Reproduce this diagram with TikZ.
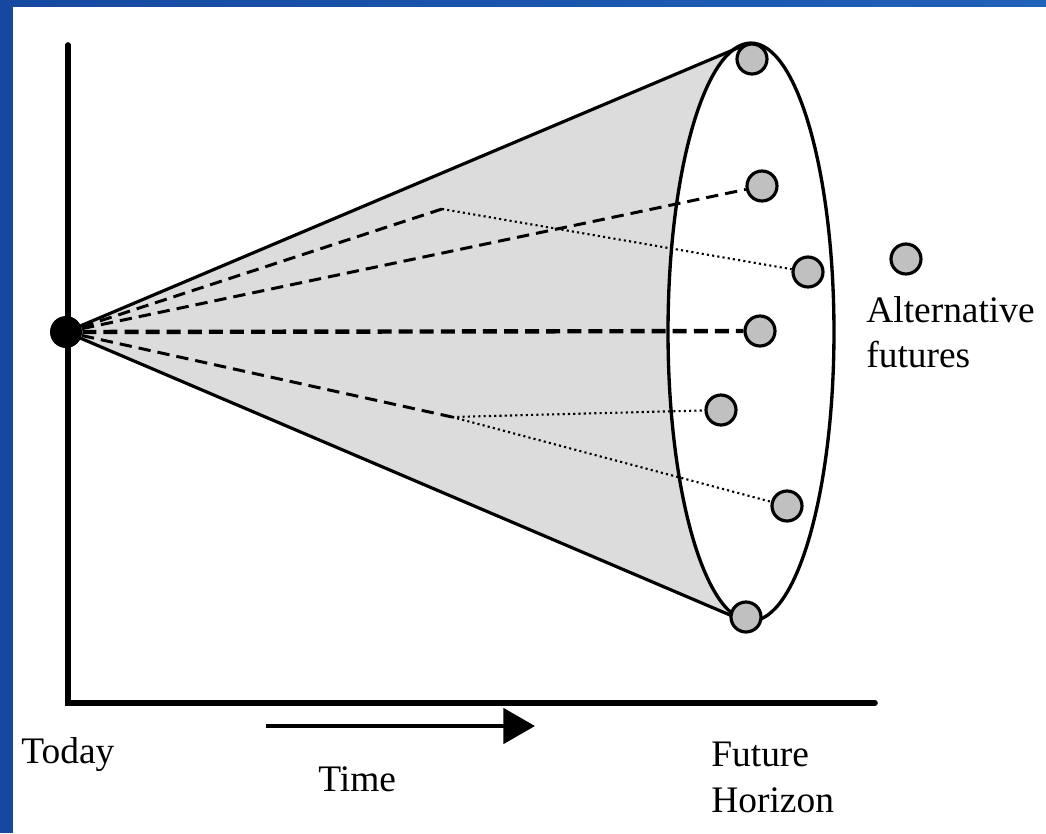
\documentclass[tikz,border=0pt]{standalone}
\usepackage{fontspec}
\setmainfont{Liberation Serif}
\usetikzlibrary{arrows.meta}
\definecolor{slideblue}{RGB}{22,72,162}
\definecolor{slidesky}{RGB}{32,98,184}
\definecolor{conegray}{RGB}{220,220,220}
\definecolor{dotgray}{RGB}{192,192,192}

\begin{document}
\begin{tikzpicture}[x=0.02cm,y=-0.02cm,
  future/.style={circle,draw,line width=1.8pt,fill=dotgray,minimum size=0.6cm,inner sep=0pt},
  now/.style={circle,fill=black,minimum size=0.64cm,inner sep=0pt},
  branch/.style={line width=1.7pt,dash pattern=on 7pt off 4pt},
  twig/.style={line width=1.2pt,dash pattern=on 1.2pt off 1.8pt},
  axis/.style={line width=3.2pt,line cap=round,line join=miter},
  caption/.style={inner sep=0pt,anchor=north west,align=left,font=\fontsize{21.3}{25.8}\selectfont}]
  \useasboundingbox (0,0) rectangle (1046,833);
  \fill[slideblue] (0,0) rectangle (13,833);
  \shade[left color=slideblue,right color=slidesky] (0,0) rectangle (1046,6);

  \coordinate (origin) at (66,332);
  \coordinate (ctop) at (740,47);
  \coordinate (cbot) at (737,618);
  \fill[conegray] (origin) -- (ctop) -- (cbot) -- cycle;
  \draw[line width=1.9pt,fill=white] (751,332) ellipse [x radius=1.66cm,y radius=5.78cm];
  \draw[line width=1.8pt] (origin) -- (ctop) (origin) -- (cbot);

  \coordinate (ytip) at (68,45);
  \coordinate (corner) at (68,703);
  \coordinate (xtip) at (875,703);
  \draw[axis] (ytip) -- (corner) -- (xtip);

  \coordinate (tstart) at (266,726);
  \coordinate (tend) at (535,726);
  \draw[line width=2.5pt,-{Triangle[length=18pt,width=20pt]}] (tstart) -- (tend);

  \node[now] (today) at (origin) {};
  \node[future] (f1) at (752,59) {};
  \node[future] (f2) at (762,186) {};
  \node[future] (f3) at (808,272) {};
  \node[future] (f4) at (760,331) {};
  \node[future] (f5) at (721,410) {};
  \node[future] (f6) at (787,506) {};
  \node[future] (f7) at (746,617) {};
  \node[future] (key) at (906,259) {};

  \coordinate (b1) at (442,209);
  \coordinate (b2) at (452,417);
  \draw[branch] (today) -- (b1);
  \draw[branch] (today) -- (f2);
  \draw[branch,line width=2.5pt,dash pattern=on 8pt off 4pt] (today) -- (f4);
  \draw[branch] (today) -- (b2);
  \draw[twig] (b1) -- (f3);
  \draw[twig] (b2) -- (f5);
  \draw[twig] (b2) -- (f6);

  \node[caption] (keytext) at (866,296) {Alternative\\futures};
  \node[caption] (todaytext) at (21,737) {Today};
  \node[caption] (timetext) at (318,766) {Time};
  \node[caption] (horizontext) at (711,742) {Future\\Horizon};
\end{tikzpicture}
\end{document}
